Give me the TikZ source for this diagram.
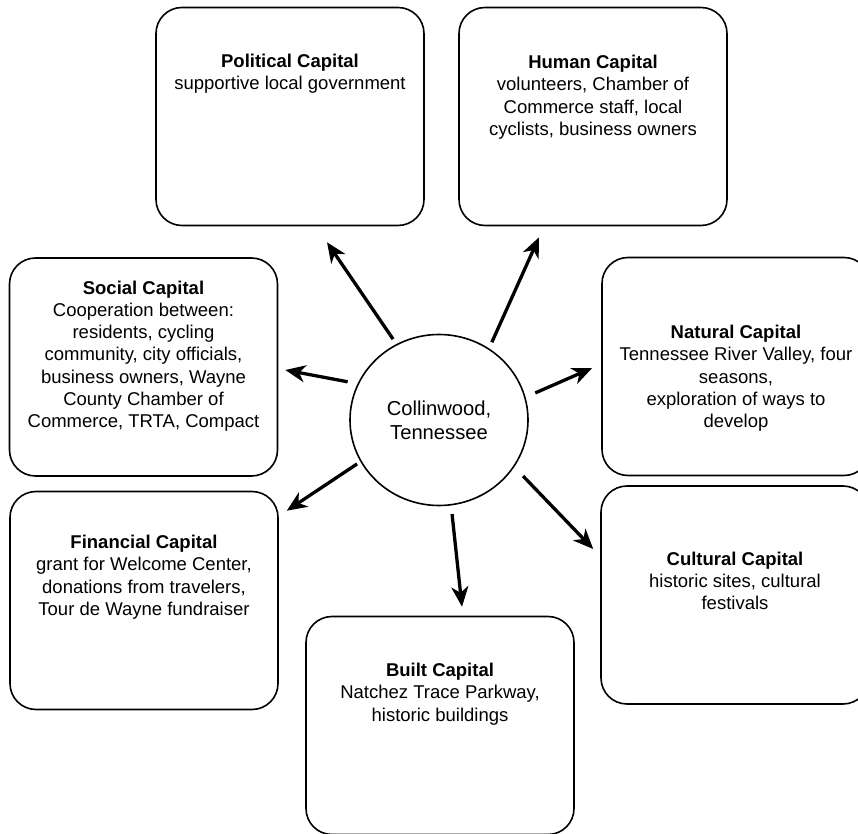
\documentclass[tikz,border=0pt]{standalone}
\usepackage{fontspec}
\setmainfont{Liberation Sans}
\usetikzlibrary{arrows.meta,calc,shapes.geometric}
\tikzset{
  capbox/.style={draw, line width=1.6pt, rounded corners=26pt, minimum width=268pt, minimum height=218pt, inner sep=0pt},
  captext/.style={anchor=north, align=center, inner sep=0pt, font=\fontsize{18.5}{22.3}\selectfont},
  arrow/.style={-{Stealth[length=20pt,width=17pt,inset=6pt]}, line width=3.3pt}
}
\begin{document}
\begin{tikzpicture}[x=1pt,y=1pt]
\useasboundingbox (0,0) rectangle (858,833);

\node[ellipse, draw, line width=1.6pt, minimum width=178pt, minimum height=171pt, align=center,
  font=\fontsize{20.2}{24}\selectfont] (hub) at (439,413) {Collinwood,\\Tennessee};

\node[capbox] (political) at (290,716.5) {};
\node[capbox] (human) at (593,716.5) {};
\node[capbox] (social) at (143.5,466) {};
\node[capbox] (natural) at (736,466.5) {};
\node[capbox] (financial) at (144,232.5) {};
\node[capbox] (cultural) at (735,238) {};
\node[capbox] (built) at (440,107.5) {};

\node[captext] (politicaltext) at ([yshift=-45pt]political.north)
  {\strut\textbf{Political Capital}\\supportive local government};
\node[captext] (humantext) at ([yshift=-46pt]human.north)
  {\strut\textbf{Human Capital}\\volunteers, Chamber of\\Commerce staff, local\\cyclists, business owners};
\node[captext] (socialtext) at ([yshift=-21pt]social.north)
  {\strut\textbf{Social Capital}\\Cooperation between:\\residents, cycling\\community, city officials,\\business owners, Wayne\\County Chamber of\\Commerce, TRTA, Compact};
\node[captext] (naturaltext) at ([yshift=-66pt]natural.north)
  {\strut\textbf{Natural Capital}\\Tennessee River Valley, four\\seasons,\\exploration of ways to\\develop};
\node[captext] (financialtext) at ([yshift=-42pt]financial.north)
  {\strut\textbf{Financial Capital}\\grant for Welcome Center,\\donations from travelers,\\Tour de Wayne fundraiser};
\node[captext] (culturaltext) at ([yshift=-64pt]cultural.north)
  {\strut\textbf{Cultural Capital}\\historic sites, cultural\\festivals};
\node[captext] (builttext) at ([yshift=-45pt]built.north)
  {\strut\textbf{Built Capital}\\Natchez Trace Parkway,\\historic buildings};

\draw[arrow] ($(hub)+(119.6:93)$) -- ([shift={(37,-16)}]political.south);
\draw[arrow] ($(hub)+(55.8:94)$) -- ([shift={(-54,-11)}]human.south);
\draw[arrow] ($(hub)+(157.3:99)$) -- ([shift={(7,-3)}]social.east);
\draw[arrow] ($(hub)+(15.7:100)$) -- ([shift={(-9,-1.5)}]natural.west);
\draw[arrow] ($(hub)+(208.2:93)$) -- ([shift={(8,-20)}]financial.north east);
\draw[arrow] ($(hub)+(326.3:101)$) -- ([shift={(-7,46)}]cultural.west);
\draw[arrow] ($(hub)+(277.9:95)$) -- ([shift={(22,9)}]built.north);

\end{tikzpicture}
\end{document}
